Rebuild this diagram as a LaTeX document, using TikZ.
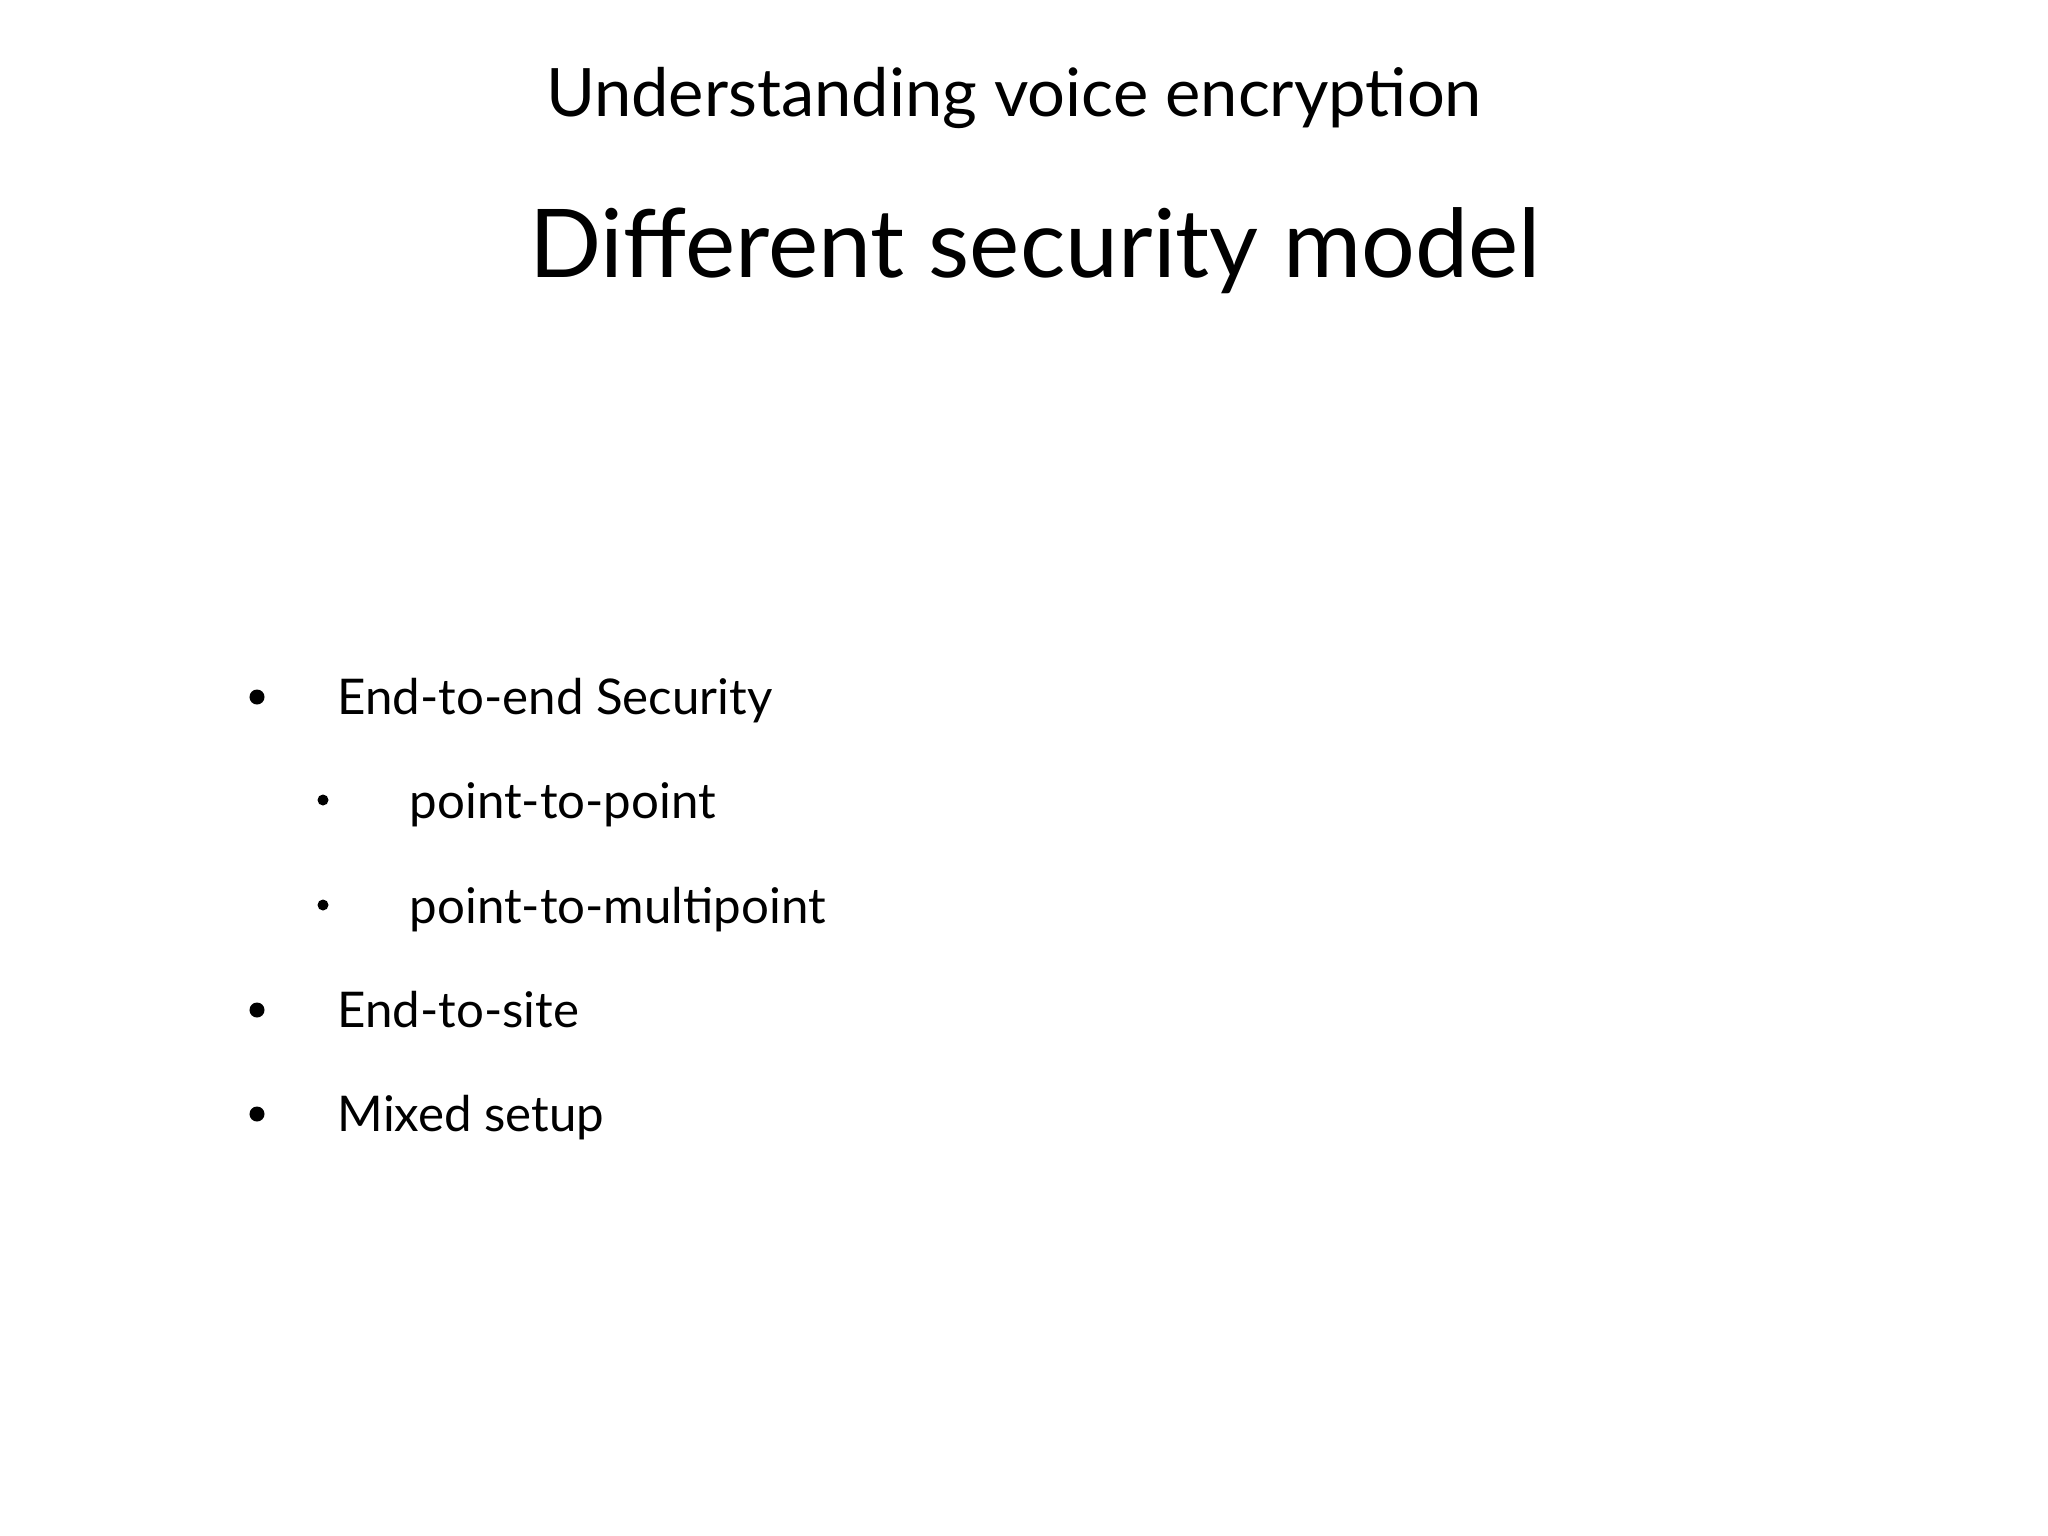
\documentclass[tikz,border=0pt]{standalone}
\usepackage{fontspec}
\setmainfont{Lato}
\begin{document}
\begin{tikzpicture}[x=0.01cm,y=-0.01cm,
  title/.style={anchor=base,inner sep=0pt,font=\fontsize{19}{22}\selectfont},
  head/.style={anchor=base,inner sep=0pt,font=\fontsize{27}{32}\selectfont},
  item/.style={anchor=base west,inner sep=0pt,font=\fontsize{14}{17}\selectfont},
  dot/.style={circle,fill=black,inner sep=0pt,minimum size=#1}]
\useasboundingbox (0,0) rectangle (2048,1536);
\node[title] (t) at (1014,116) {Understanding voice encryption};
\node[head] (h) at (1035,277) {Different security model};
\node[dot=14pt*0+0.15cm] (d1) at (257,697) {};
\node[item] (i1) at (337,714) {End-to-end Security};
\node[dot=0.11cm] (d2) at (323,800) {};
\node[item] (i2) at (409,818) {point-to-point};
\node[dot=0.11cm] (d3) at (323,905) {};
\node[item] (i3) at (409,923) {point-to-multipoint};
\node[dot=0.15cm] (d4) at (257,1010) {};
\node[item] (i4) at (337,1027) {End-to-site};
\node[dot=0.15cm] (d5) at (257,1114) {};
\node[item] (i5) at (337,1131) {Mixed setup};
\end{tikzpicture}
\end{document}
